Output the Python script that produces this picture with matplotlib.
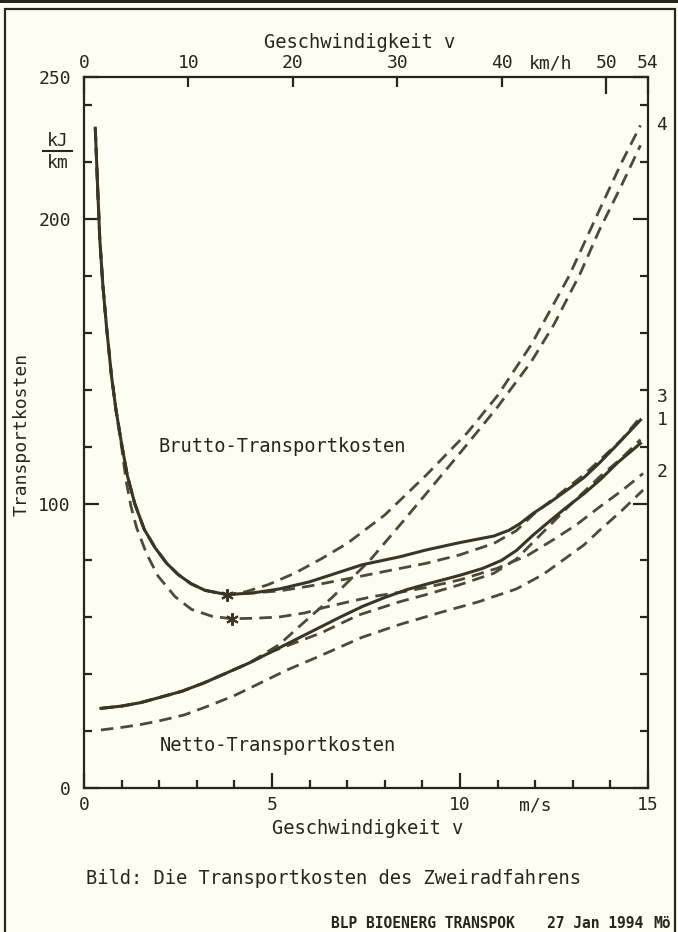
import numpy as np
import matplotlib
matplotlib.use('Agg')
import matplotlib.pyplot as plt
from matplotlib.lines import Line2D
from matplotlib.patches import Rectangle

# speed v in m/s, transport costs in kJ/km
# low-speed part shared by the gross curves 1, 3 and 4
v_brutto_lo = [0.30, 0.36, 0.42, 0.50, 0.60, 0.73, 0.85, 1.00, 1.15, 1.35,
               1.60, 1.89, 2.20, 2.51, 2.85, 3.22, 3.80]
k_brutto_lo = [232, 212, 193, 177, 162, 145, 133, 121, 110, 100,
               91, 84.5, 79, 75, 71.8, 69.5, 68]

v_brutto1 = [4.50, 5.20, 6.00, 6.70, 7.40, 8.40, 9.10, 10.0, 10.9, 11.3,
             11.6, 11.95, 12.4, 12.85, 13.3, 13.7, 14.2, 14.8]
k_brutto1 = [68.6, 70, 72.5, 75.5, 78.5, 81.3, 83.7, 86.3, 88.6, 90.6,
             93, 96.6, 100.5, 104.8, 109.2, 114.2, 121, 129.4]

v_brutto3 = [4.50, 5.20, 6.00, 7.30, 8.40, 9.10, 10.0, 10.9, 11.5, 11.95,
             12.4, 12.85, 13.3, 13.72, 14.3, 14.85]
k_brutto3 = [68.6, 69.3, 71.0, 74.3, 77.2, 79.0, 82.0, 86.0, 90.5, 96.2,
             100.8, 105.5, 110.2, 115.3, 122.5, 131.2]

v_brutto4 = [4.30, 4.90, 5.60, 6.30, 7.00, 8.00, 9.10, 10.2, 11.0, 11.9,
             12.9, 13.7, 14.3, 14.8]
k_brutto4 = [69.0, 71.5, 75.5, 80.5, 86.0, 96.0, 110, 125, 138, 156,
             180, 203, 220, 233]

v_brutto2 = [0.30, 0.36, 0.42, 0.50, 0.60, 0.73, 0.85, 1.00, 1.12, 1.25,
             1.40, 1.66, 1.97, 2.42, 2.86, 3.40, 3.93, 4.55, 5.18, 5.89,
             6.40, 7.05, 7.67, 8.40, 9.10, 10.0, 11.0, 11.8, 12.47, 13.1,
             13.72, 14.3, 14.87]
k_brutto2 = [232, 212, 193, 177, 162, 145, 133, 120, 108, 99,
             91.5, 82.5, 74.5, 67.3, 62.8, 60.4, 59.5, 59.7, 60.1, 61.6,
             63.5, 65.5, 67.3, 68.8, 70.5, 73.2, 77.3, 81.8, 87.2, 92.6,
             98.9, 104.5, 110.6]

# low-speed part shared by the net curves 1, 3 and 4
v_netto_lo = [0.45, 1.0, 1.5, 2.0, 2.6, 3.2, 3.8, 4.4]
k_netto_lo = [28, 28.8, 30, 31.8, 34, 37, 40.5, 44]

v_netto1 = [5.0, 5.6, 6.2, 6.8, 7.4, 8.0, 8.6, 9.2, 10.0, 10.6,
            11.1, 11.5, 11.95, 12.4, 12.85, 13.3, 13.72, 14.2, 14.8]
k_netto1 = [48, 52, 56, 60, 63.8, 67, 69.8, 72, 74.8, 77.2,
            80, 83.5, 89, 94, 98.9, 103.5, 108.3, 114.5, 121.2]

v_netto3 = [5.0, 5.5, 6.3, 7.3, 8.4, 9.1, 10.0, 10.9, 11.5, 11.95,
            12.85, 13.72, 14.3, 14.8]
k_netto3 = [48, 50.5, 54.5, 60.8, 65.5, 68, 71.5, 75.5, 80.5, 86.5,
            98.5, 109.5, 116, 122.5]

v_netto4 = [5.2, 5.7, 6.6, 7.1, 7.6, 8.5, 9.7, 10.2, 11.0, 11.9,
            12.5, 13.2, 13.7, 14.3, 14.8]
k_netto4 = [50.5, 56.5, 67, 73.5, 80, 94, 113, 121, 134, 150,
            163, 181, 196, 212, 226]

v_netto2 = [0.45, 1.0, 1.5, 2.0, 2.67, 3.3, 4.0, 4.7, 5.4, 6.2,
            6.8, 7.4, 8.4, 9.5, 10.5, 11.5, 12.2, 12.83, 13.3, 13.72,
            14.3, 14.87]
k_netto2 = [20.4, 21.3, 22.3, 23.6, 25.7, 28.8, 32.5, 37, 41.5, 46,
            49.5, 53, 57.5, 61.8, 65.5, 70, 75, 81, 85.5, 90.7,
            97.5, 104.8]

# curve numbers at the right edge
end_labels = ['4', '3', '1', '2']
end_label_y = [233, 137.5, 129.5, 111]

y_major = [0, 100, 200, 250]
x_major = [0, 5, 10, 15]
kmh_major = [0, 50, 54]
kmh_minor = [10, 20, 30, 40]

W, H = 678, 932
paper = '#fefdf4'
ink = '#2a2519'
solid_c = '#3d3524'
dash_c = '#4f4935'
mono = 'DejaVu Sans Mono'
plt.rcParams['font.family'] = mono


def fpos(x, y):
    return x / W, 1 - y / H


fig = plt.figure(figsize=(W / 100, H / 100), dpi=100)
fig.patch.set_facecolor(paper)

# frame round the sheet
fig.add_artist(Rectangle(fpos(0, 3), 1, 3 / H, transform=fig.transFigure,
                         color=ink, lw=0))
fig.add_artist(Rectangle(fpos(5, 950), 670 / W, 941 / H, transform=fig.transFigure,
                         fill=False, ec=ink, lw=1.6))

left, right, top, bottom = 84, 648, 77, 788
ax = fig.add_axes([left / W, 1 - bottom / H, (right - left) / W, (bottom - top) / H])
ax.set_facecolor(paper)

dash = dict(color=dash_c, lw=2.0, dashes=(4.5, 2.6), solid_capstyle='butt')
solid = dict(color=solid_c, lw=2.2)

ax.plot(v_brutto_lo + v_brutto4, k_brutto_lo + k_brutto4, **dash)
ax.plot(v_netto_lo + v_netto4, k_netto_lo + k_netto4, **dash)
ax.plot(v_brutto_lo + v_brutto3, k_brutto_lo + k_brutto3, **dash)
ax.plot(v_netto_lo + v_netto3, k_netto_lo + k_netto3, **dash)
ax.plot(v_brutto2, k_brutto2, **dash)
ax.plot(v_netto2, k_netto2, **dash)
ax.plot(v_brutto_lo + v_brutto1, k_brutto_lo + k_brutto1, **solid)
ax.plot(v_netto_lo + v_netto1, k_netto_lo + k_netto1, **solid)

# minima of the gross curves
for vs, ks in [(v_brutto_lo + v_brutto1, k_brutto_lo + k_brutto1), (v_brutto2, k_brutto2)]:
    i = int(np.argmin(ks))
    ax.plot(vs[i], ks[i], marker=(6, 2, 0), ms=9, mew=1.5, color=solid_c)

ax.set_xlim(0, 15)
ax.set_ylim(0, 250)
ax.set_xticks(x_major, [str(t) for t in x_major])
ax.set_xticks(np.arange(1, 15), minor=True)
ax.set_yticks(y_major, [str(t) for t in y_major])
ax.set_yticks(np.arange(20, 250, 20), minor=True)
ax.tick_params(which='both', direction='in', right=True, width=1.6, color=ink,
               labelcolor=ink, labelsize=13)
ax.tick_params(which='major', length=11)
ax.tick_params(which='minor', length=5.5)
ax.tick_params(axis='x', pad=6)
ax.tick_params(axis='y', pad=9.5)
for s in ax.spines.values():
    s.set_linewidth(1.6)
    s.set_color(ink)

ax.annotate('m/s', xy=(12, 0), xycoords=('data', 'axes fraction'), xytext=(0, -6),
            textcoords='offset points', ha='center', va='top', fontsize=13, color=ink)

# km/h scale along the top
ax2 = ax.twiny()
ax2.set_xlim(0, 54)
ax2.set_xticks(kmh_major, [str(t) for t in kmh_major])
ax2.set_xticks(kmh_minor, [str(t) for t in kmh_minor], minor=True)
ax2.tick_params(which='both', direction='in', width=1.6, color=ink, labelcolor=ink,
                labelsize=13, pad=3.5)
ax2.tick_params(which='major', length=12)
ax2.tick_params(which='minor', length=7)
for s in ax2.spines.values():
    s.set_visible(False)
ax2.annotate('km/h', xy=(44.7, 1), xycoords=('data', 'axes fraction'), xytext=(0, 3.5),
             textcoords='offset points', ha='center', va='bottom', fontsize=13, color=ink)

for lab, yv in zip(end_labels, end_label_y):
    ax.annotate(lab, xy=(1, yv), xycoords=('axes fraction', 'data'), xytext=(10, 0),
                textcoords='offset points', ha='center', va='center', fontsize=13, color=ink)

ax.text(1.97, 120, 'Brutto-Transportkosten', fontsize=13.5, color=ink, va='center')
ax.text(2.02, 15, 'Netto-Transportkosten', fontsize=13.5, color=ink, va='center')

fig.text(*fpos(360, 42), 'Geschwindigkeit v', fontsize=13.5, color=ink, ha='center', va='center')
fig.text(*fpos(368, 828), 'Geschwindigkeit v', fontsize=13.5, color=ink, ha='center', va='center')
fig.text(*fpos(22, 434), 'Transportkosten', fontsize=13, color=ink, ha='center', va='center',
         rotation=90)
fig.text(*fpos(58, 141), 'kJ', fontsize=13, color=ink, ha='center', va='center')
fig.text(*fpos(58, 163), 'km', fontsize=13, color=ink, ha='center', va='center')
fig.add_artist(Line2D([43 / W, 72 / W], [1 - 151 / H, 1 - 151 / H], transform=fig.transFigure,
                      color=ink, lw=1.5))

fig.text(*fpos(86, 879), 'Bild: Die Transportkosten des Zweiradfahrens', fontsize=13.5,
         color=ink, ha='left', va='center')
fig.text(*fpos(331, 924), 'BLP BIOENERG TRANSPOK', fontsize=10.5, fontweight='bold',
         color=ink, ha='left', va='center')
fig.text(*fpos(547, 924), '27 Jan 1994', fontsize=10.5, fontweight='bold',
         color=ink, ha='left', va='center')
fig.text(*fpos(653, 924), 'Mö', fontsize=10.5, fontweight='bold',
         color=ink, ha='left', va='center')

fig.savefig('out.png', dpi=100, facecolor=paper)
